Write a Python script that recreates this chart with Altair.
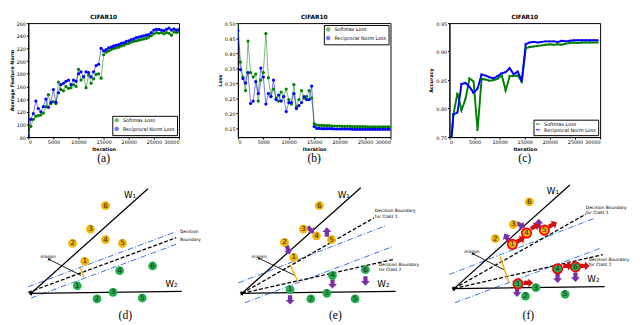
import math
import altair as alt
import pandas as pd

# ---------------- line-chart data ----------------
iters_ab = list(range(0, 30001, 500))

a_softmax = [86, 97, 108, 113, 114, 115, 118, 128, 147, 133,
             136, 133, 167, 155, 153, 160, 157, 158, 163, 160,
             187, 170, 176, 158, 178, 165, 172, 179, 180, 173,
             210, 214, 216, 218, 220, 221, 222, 224, 225, 227,
             228, 230, 231, 232, 233, 234, 235, 236, 238, 240,
             243, 245, 244, 245, 243, 245, 244, 241, 246, 245,
             246]
a_recip = [82, 108, 117, 137, 125, 120, 128, 140, 127, 135,
           155, 135, 150, 163, 165, 168, 170, 163, 170, 168,
           180, 183, 175, 183, 182, 175, 183, 193, 195, 220,
           216, 218, 221, 222, 224, 225, 226, 228, 229, 231,
           232, 234, 235, 237, 238, 239, 240, 241, 242, 245,
           249, 250, 250, 249, 248, 250, 252, 249, 251, 249,
           250]

b_softmax = [0.50, 0.37, 0.32, 0.275, 0.44, 0.335, 0.32, 0.33, 0.24, 0.31,
             0.335, 0.465, 0.318, 0.255, 0.28, 0.25, 0.24, 0.27, 0.255, 0.28,
             0.245, 0.23, 0.295, 0.22, 0.245, 0.275, 0.25, 0.255, 0.275, 0.25,
             0.165, 0.160, 0.159, 0.159, 0.158, 0.158, 0.158, 0.157, 0.157, 0.157,
             0.157, 0.156, 0.156, 0.156, 0.156, 0.155, 0.155, 0.155, 0.155, 0.155,
             0.155, 0.154, 0.154, 0.154, 0.154, 0.154, 0.154, 0.154, 0.154, 0.154,
             0.154]
b_recip = [0.475, 0.345, 0.315, 0.30, 0.335, 0.232, 0.24, 0.305, 0.265, 0.35,
           0.32, 0.23, 0.265, 0.255, 0.31, 0.245, 0.26, 0.24, 0.255, 0.205,
           0.235, 0.235, 0.265, 0.215, 0.225, 0.235, 0.255, 0.245, 0.245, 0.29,
           0.155, 0.149, 0.149, 0.148, 0.148, 0.148, 0.148, 0.148, 0.147, 0.147,
           0.147, 0.147, 0.147, 0.147, 0.147, 0.146, 0.146, 0.146, 0.146, 0.146,
           0.146, 0.146, 0.146, 0.146, 0.146, 0.146, 0.146, 0.146, 0.146, 0.146,
           0.146]

iters_c = [400, 800, 1600, 2400, 3200, 4000, 4800, 5600, 6400, 7200,
           8000, 8800, 9600, 10400, 11200, 12000, 12800, 13600, 14400, 15200,
           16000, 16800, 17600, 18400, 19200, 20000, 20800, 21600, 22400, 23200,
           24000, 24800, 25600, 26400, 27200, 28000, 28800, 29600]
c_softmax = [0.745, 0.79, 0.827, 0.797, 0.817, 0.853, 0.848, 0.762, 0.852, 0.851,
             0.849, 0.850, 0.852, 0.859, 0.832, 0.857, 0.857, 0.858, 0.847, 0.906,
             0.908, 0.909, 0.910, 0.911, 0.912, 0.913, 0.912, 0.913, 0.912, 0.914,
             0.915, 0.916, 0.915, 0.916, 0.916, 0.916, 0.916, 0.916]
c_recip = [0.75, 0.79, 0.793, 0.843, 0.845, 0.838, 0.828, 0.835, 0.86, 0.858,
           0.855, 0.853, 0.857, 0.862, 0.864, 0.871, 0.86, 0.865, 0.848, 0.913,
           0.916, 0.917, 0.916, 0.917, 0.918, 0.918, 0.918, 0.917, 0.919, 0.918,
           0.919, 0.920, 0.920, 0.920, 0.920, 0.920, 0.920, 0.920]

SERIES = ["Softmax Loss", "Reciprocal Norm Loss"]
COLORS = ["#008000", "#0000ff"]
x_ticks = [0, 5000, 10000, 15000, 20000, 25000, 30000]

# ---------------- diagram data (figure coordinates) ----------------
seg_x = [3, 3, 227, 227, 452, 452,
         22, 245, 472,
         0, 227, 227, 452, 452,
         0, 3, 223, 230, 447, 453,
         55, 278, 501]
seg_y = [295, 295, 295, 295, 290, 290,
         259, 258, 253,
         294, 295, 295, 290, 290,
         288, 300, 284, 305, 275, 305,
         268, 265, 256]
seg_x2 = [127, 163, 353, 390, 575, 612,
          56, 283, 505,
          157, 367, 388, 592, 610,
          156, 157, 380, 388, 602, 608,
          59, 286, 510]
seg_y2 = [184, 293, 183, 293, 180, 288,
          276, 276, 270,
          236, 215, 259, 211, 254,
          230, 243, 223, 245, 215, 247,
          278, 282, 283]
seg_kind = ["axis"] * 6 + ["marg"] * 3 + ["dash"] * 5 + ["dashdot"] * 6 + ["orange"] * 3

circ_x = [82, 66, 47, 82, 100, 60, 52, 97, 132, 73, 90, 121,
          309, 292, 306, 322, 272, 282, 323, 358, 278, 317, 300, 347,
          532, 515, 496, 514, 529, 548, 562, 581, 520, 539, 528, 570]
circ_y = [202, 227, 242, 238, 242, 261, 287, 271, 266, 301, 294, 300,
          202, 227, 234, 238, 241, 257, 276, 270, 291, 295, 301, 301,
          198, 222, 237, 243, 231, 228, 269, 267, 285, 289, 298, 296]
circ_num = ["6", "3", "2", "4", "5", "1", "1", "4", "6", "2", "3", "5",
            "6", "3", "4", "5", "2", "1", "4", "6", "1", "3", "2", "5",
            "6", "3", "2", "1", "4", "5", "4", "6", "1", "3", "2", "5"]
circ_cls = (["c1"] * 6 + ["c2"] * 6) * 3
circ_ring = [0] * 24 + [0, 0, 0, 1, 1, 1, 1, 1, 1, 0, 0, 0]

barrow_x = [300, 317, 276, 278, 323, 358, 523, 542, 508, 519, 562, 581,
            523, 538, 557, 573, 591, 531]
barrow_y = [228, 230, 249, 302, 285, 282, 223, 221, 236, 294, 279, 278,
            238, 224, 222, 266, 266, 284]
barrow_angle = [135, 0, 160, 180, 180, 180, 120, 0, 330, 180, 180, 180,
                60, 60, 60, 90, 90, 90]
barrow_kind = ["push"] * 12 + ["pull"] * 6

lab_x = [108, 152, 335, 377, 557, 600]
lab_y = [191, 285, 191, 285, 187, 280]
lab_s = ["W\u2081", "W\u2082", "W\u2081", "W\u2082", "W\u2081", "W\u2082"]

note_x = [161, 161, 368, 368, 372, 372, 592, 592, 595, 595, 13, 237, 463]
note_y = [230, 238, 208, 214, 265, 270, 204, 210, 260, 265, 257, 257, 251]
note_s = ["Decision", "Boundary", "Decision Boundary", "for Class 1",
          "Decision Boundary", "for Class 2", "Decision Boundary", "for Class 1",
          "Decision Boundary", "for Class 2", "margin", "margin", "margin"]

cap_x = [103, 326, 531]
cap_y = [318, 318, 318]
cap_s = ["(d)", "(e)", "(f)"]


def line_panel(iters, soft, recip, ydom, yvals, yfmt, ytitle, legend_orient,
               caption, w, h, thick):
    n = len(iters)
    df = pd.DataFrame({
        "iter": list(iters) + list(iters),
        "value": list(soft) + list(recip),
        "series": [SERIES[0]] * n + [SERIES[1]] * n,
    })
    x = alt.X("iter:Q", scale=alt.Scale(domain=[0, 30000], nice=False),
              axis=alt.Axis(values=x_ticks, format="d", title="Iteration"))
    y = alt.Y("value:Q", scale=alt.Scale(domain=ydom, nice=False, zero=False),
              axis=alt.Axis(values=yvals, format=yfmt, title=ytitle))
    color = alt.Color("series:N", scale=alt.Scale(domain=SERIES, range=COLORS),
                      legend=alt.Legend(title=None, orient=legend_orient))
    base = alt.Chart(df).encode(x=x, y=y, color=color)
    line = base.mark_line(strokeWidth=2 if thick else 1,
                          opacity=1 if thick else 0.55, clip=True)
    pts = base.mark_point(filled=True, opacity=1, clip=True,
                          size=7 if thick else 11,
                          shape="triangle-right" if thick else "circle")
    cap = alt.Chart(pd.DataFrame({"t": [caption]})).mark_text(
        font="Liberation Serif", fontSize=12, baseline="middle"
    ).encode(x=alt.value(w / 2), y=alt.value(h + 22), text="t:N")
    return alt.layer(line, pts, cap).properties(
        width=w, height=h,
        title=alt.TitleParams("CIFAR10", fontSize=6, fontWeight="bold", offset=1),
    )


W, H = 156, 118
pa = line_panel(iters_ab, a_softmax, a_recip, [80, 260],
                list(range(80, 261, 20)), "d", "Average Feature Norm",
                "bottom-right", "(a)", W, H, False)
pb = line_panel(iters_ab, b_softmax, b_recip, [0.12, 0.50],
                [0.15, 0.20, 0.25, 0.30, 0.35, 0.40, 0.45, 0.50], ".2f", "Loss",
                "top-right", "(b)", W + 2, H, False)
pc = line_panel(iters_c, c_softmax, c_recip, [0.75, 0.95],
                [0.75, 0.80, 0.85, 0.90, 0.95], ".2f", "Accuracy",
                "bottom-right", "(c)", W, H, True)

top = alt.hconcat(pa, pb, pc, spacing=38).resolve_scale(
    color="independent").resolve_legend(color="independent")

# ---------------- diagram ----------------
xs = alt.Scale(domain=[0, 640], nice=False, zero=False)
ys = alt.Scale(domain=[160, 325], nice=False, zero=False, reverse=True)

seg = pd.DataFrame({"x": seg_x, "y": seg_y, "x2": seg_x2, "y2": seg_y2, "kind": seg_kind})
heads = seg[seg["kind"].isin(["axis", "marg"])].copy()
heads["ang"] = [
    (math.degrees(math.atan2(r.x2 - r.x, -(r.y2 - r.y))) + 360) % 360
    for r in heads.itertuples()
]
heads["sz"] = [22 if k == "axis" else 10 for k in heads["kind"]]

circ = pd.DataFrame({"x": circ_x, "y": circ_y, "num": circ_num,
                     "cls": circ_cls, "ring": circ_ring})
barrow = pd.DataFrame({"x": barrow_x, "y": barrow_y, "ang": barrow_angle,
                       "kind": barrow_kind})
labs = pd.DataFrame({"x": lab_x, "y": lab_y, "s": lab_s})
notes = pd.DataFrame({"x": note_x, "y": note_y, "s": note_s})
caps = pd.DataFrame({"x": cap_x, "y": cap_y, "s": cap_s})

X = alt.X("x:Q", scale=xs, axis=None)
Y = alt.Y("y:Q", scale=ys, axis=None)
X2 = alt.X2("x2:Q")
Y2 = alt.Y2("y2:Q")


def rules(kind, **kw):
    return alt.Chart(seg).transform_filter(
        alt.datum.kind == kind).mark_rule(**kw).encode(x=X, y=Y, x2=X2, y2=Y2)


BLOCK = "M-0.45,1L0.45,1L0.45,0L0.95,0L0,-1L-0.95,0L-0.45,0Z"


def block_arrows(kind, col):
    return alt.Chart(barrow).transform_filter(alt.datum.kind == kind).mark_point(
        shape=BLOCK, filled=True, opacity=1, size=95, color=col
    ).encode(x=X, y=Y, angle=alt.Angle("ang:Q", scale=None))


def dots(cls, col):
    return alt.Chart(circ).transform_filter(alt.datum.cls == cls).mark_point(
        filled=True, opacity=1, size=82, color=col).encode(x=X, y=Y)


layers = [
    rules("dashdot", color="#3b6fd6", strokeWidth=1, strokeDash=[6, 2, 1, 2]),
    rules("dash", color="black", strokeWidth=1.3, strokeDash=[4, 2]),
    rules("axis", color="black", strokeWidth=1.3),
    rules("marg", color="black", strokeWidth=0.9),
    rules("orange", color="#f2a900", strokeWidth=1.3),
    alt.Chart(heads).mark_point(shape="triangle", filled=True, color="black",
                                opacity=1).encode(
        x=X, y=Y, angle=alt.Angle("ang:Q", scale=None),
        size=alt.Size("sz:Q", scale=None)),
    block_arrows("push", "#7a2fa8"),
    block_arrows("pull", "#d01010"),
    dots("c1", "#f5b400"),
    dots("c2", "#1fb04c"),
    alt.Chart(circ).transform_filter(alt.datum.ring == 1).mark_point(
        filled=False, color="#ff0000", strokeWidth=1.8, size=95, opacity=1
    ).encode(x=X, y=Y),
    alt.Chart(circ).mark_text(fontSize=7.5, color="#222222", font="DejaVu Sans",
                              baseline="middle").encode(x=X, y=Y, text="num:N"),
    alt.Chart(labs).mark_text(fontSize=9, color="black", font="DejaVu Sans",
                              baseline="middle").encode(x=X, y=Y, text="s:N"),
    alt.Chart(notes).mark_text(fontSize=4.5, color="black", font="DejaVu Sans",
                               align="left", baseline="middle").encode(
        x=X, y=Y, text="s:N"),
    alt.Chart(caps).mark_text(fontSize=12, color="black", font="Liberation Serif",
                              baseline="middle").encode(x=X, y=Y, text="s:N"),
]

diagram = alt.layer(*layers).properties(
    width=624, height=161, view=alt.ViewBackground(stroke="transparent"))

chart = alt.vconcat(top, diagram, spacing=0).configure_view(
    stroke="black", strokeWidth=1
).configure_axis(
    labelFontSize=5, titleFontSize=5, tickSize=2, labelPadding=1, titlePadding=2,
    grid=False, domainColor="black", tickColor="black", labelColor="black",
    titleColor="black", titleFontWeight="bold", labelFont="DejaVu Sans",
    titleFont="DejaVu Sans"
).configure_legend(
    labelFontSize=5, symbolSize=14, padding=2, rowPadding=0, strokeColor="black",
    fillColor="white", labelFont="DejaVu Sans", offset=2, symbolStrokeWidth=1,
    labelLimit=120, cornerRadius=0
).configure_title(
    font="DejaVu Sans", color="black"
).properties(padding=0)

chart.save("out.html", embed_options={"renderer": "svg", "actions": False})
